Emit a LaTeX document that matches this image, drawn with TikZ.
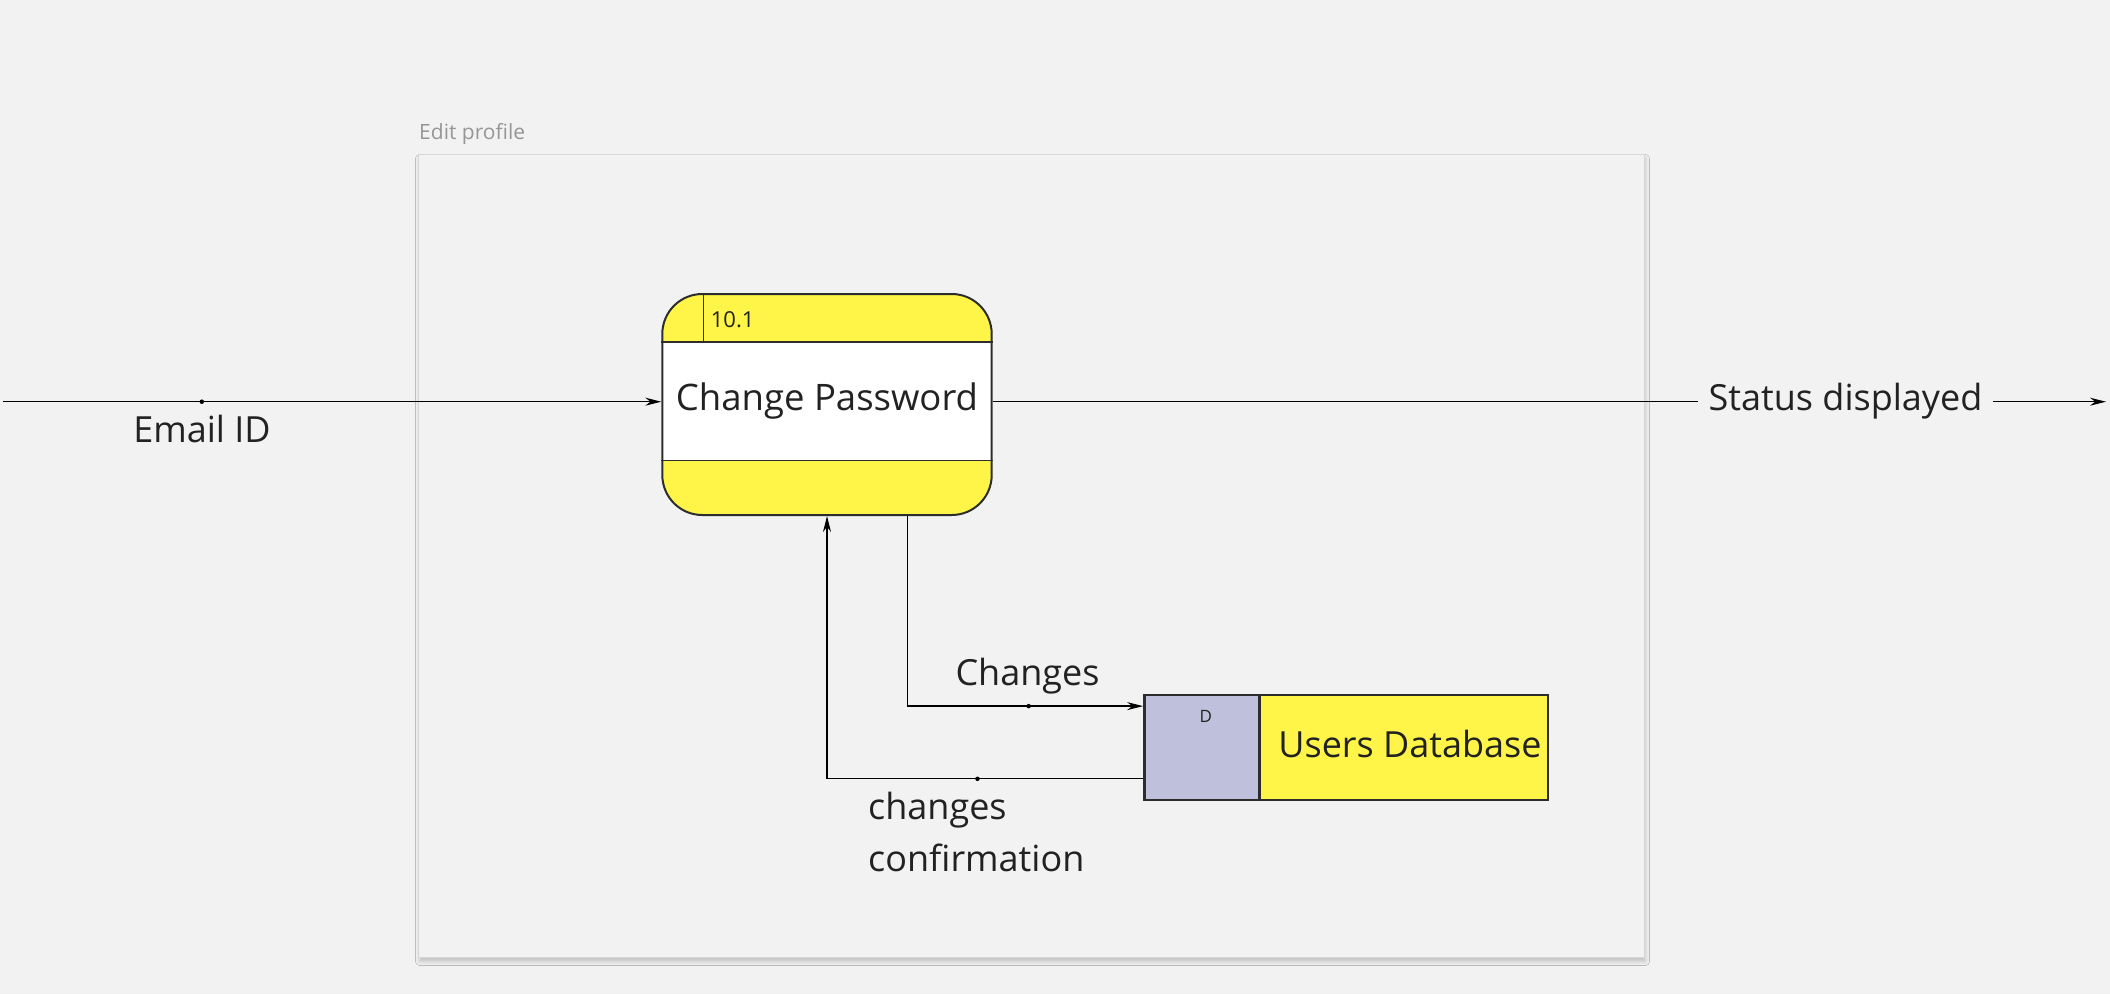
\documentclass[tikz,border=0pt]{standalone}
\usepackage{fontspec}
\setmainfont{Open Sans}
\usetikzlibrary{arrows.meta,shadows.blur,calc}

\definecolor{bg}{RGB}{242,242,242}
\definecolor{dfdyellow}{RGB}{255,245,72}
\definecolor{storeblue}{RGB}{191,192,219}
\definecolor{ink}{RGB}{34,34,34}
\definecolor{edgeink}{RGB}{45,45,45}
\definecolor{framegray}{RGB}{215,215,215}
\definecolor{captiongray}{RGB}{150,150,150}

\begin{document}
\begin{tikzpicture}[x=1pt,y=-1pt,
  flow/.style={line width=1.3pt, draw=black, -{Stealth[length=16pt,width=8pt]}},
  flowline/.style={line width=1.3pt, draw=black},
  dotmark/.style={circle, fill=black, inner sep=0pt, minimum size=4.5pt},
  lbl/.style={font=\fontsize{36}{52}\selectfont, text=ink, inner sep=0pt},
  procshape/.style={rectangle, rounded corners=40pt, minimum width=329.4pt,
    minimum height=221pt, inner sep=0pt, line width=2pt, draw=edgeink},
  storeshape/.style={rectangle, minimum height=105pt, inner sep=0pt,
    line width=2.4pt, draw=edgeink},
  boundary/.style={rectangle, fill=bg, draw=framegray, line width=1.5pt,
    minimum width=1226pt, minimum height=803pt, inner sep=0pt,
    blur shadow={shadow xshift=1pt, shadow yshift=-4pt,
      shadow blur radius=4pt, shadow opacity=20}}
]
  % canvas
  \fill[bg] (0,0) rectangle (2110,994);
  \useasboundingbox (0,0) rectangle (2110,994);

  % sub-process boundary
  \node[boundary] (frame) at (1031.5,556) {};
  \node[anchor=base west, inner sep=0pt, text=captiongray,
        font=\fontsize{21}{26}\selectfont] (frametitle) at (419,139) {Edit profile};

  % process 10.1
  \node[procshape, fill=dfdyellow, draw=none] (proc) at (827,404.5) {};
  \fill[white] ($(proc.north west)+(0,48.7)$) rectangle ($(proc.south east)+(0,-55.7)$);
  \draw[line width=1.6pt, draw=edgeink]
    ($(proc.north west)+(0,48.7)$) -- ($(proc.north east)+(0,48.7)$)
    ($(proc.south west)+(0,-55.7)$) -- ($(proc.south east)+(0,-55.7)$);
  \draw[line width=1.2pt, draw=edgeink]
    ($(proc.north west)+(42,0)$) -- ($(proc.north west)+(42,48.7)$);
  \node[procshape, fill=none] (procedge) at (proc) {};
  \node[anchor=base west, inner sep=0pt, text=ink,
        font=\fontsize{22}{26}\selectfont] (procid) at (710.7,327.7) {10.1};
  \node[lbl, anchor=base, font=\fontsize{36.5}{52}\selectfont]
    (procname) at (827,410) {Change Password};

  % data store
  \node[storeshape, fill=dfdyellow, minimum width=403.4pt] (store) at (1346,747.5) {};
  \node[storeshape, fill=storeblue, minimum width=115pt, anchor=north west]
    (storeid) at (store.north west) {};
  \node[inner sep=0pt, text=ink, font=\fontsize{17}{20}\selectfont]
    (storetag) at ($(storeid.north)+(4,23)$) {D};
  \node[lbl, anchor=base]
    (storename) at (1410,757.7) {Users Database};

  % Email ID input
  \coordinate (emailsrc) at (3,401.7);
  \draw[flow] (emailsrc) -- node[dotmark, pos=0.302] (emaildot) {} (emailsrc -| proc.west);
  \node[lbl, anchor=base] (emaillbl) at (202,442) {Email ID};

  % Status displayed output
  \coordinate (statusA) at (1698,401.7);
  \coordinate (statusB) at (1993,401.7);
  \coordinate (statusend) at (2106,401.7);
  \draw[flowline] (statusA -| proc.east) -- (statusA);
  \draw[flow] (statusB) -- (statusend);
  \node[lbl, anchor=base] (statuslbl) at (1845.5,410) {Status displayed};

  % Changes: process -> store
  \coordinate (chgout) at ($(proc.south)+(80.7,0)$);
  \coordinate (chgin) at ($(store.north west)+(0,12.3)$);
  \draw[flow] (chgout) |- node[dotmark, pos=0.757] (chgdot) {} (chgin);
  \node[lbl, anchor=base] (chglbl) at (1027.5,685) {Changes};

  % changes confirmation: store -> process
  \coordinate (confout) at ($(store.north west)+(0,85)$);
  \draw[flow] (confout) -| node[dotmark, pos=0.262] (confdot) {} (proc.south);
  \node[lbl, anchor=base west, align=left] (conflbl) at (868,871.7) {changes\\confirmation};
\end{tikzpicture}
\end{document}
